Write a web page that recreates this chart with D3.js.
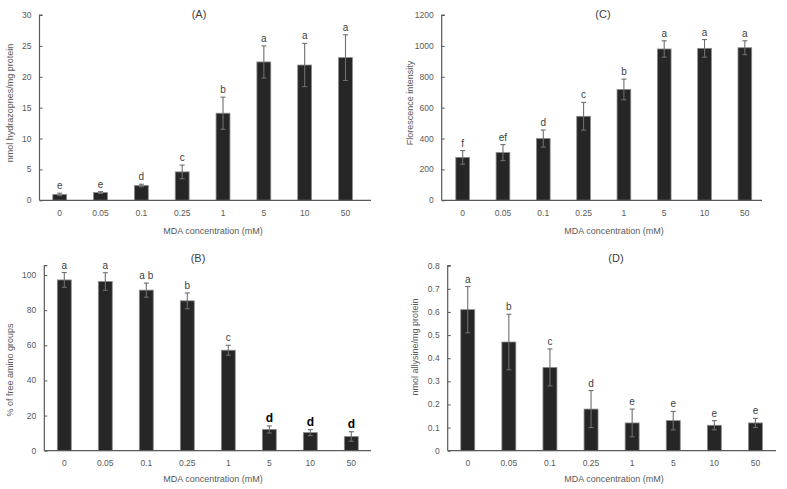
<!DOCTYPE html>
<html><head><meta charset="utf-8">
<script src="https://cdn.jsdelivr.net/npm/d3@7"></script>
<style>
html,body{margin:0;padding:0;background:#fff;}
svg{display:block;font-family:"Liberation Sans",Arial,sans-serif;}
</style></head>
<body>
<svg id="chart" width="787" height="489"></svg>
<script>
// ---- data ----
const categories = ["0","0.05","0.1","0.25","1","5","10","50"];

const valuesA = [0.95, 1.25, 2.4, 4.6, 14.1, 22.4, 21.9, 23.1];
const errorsA = [0.2, 0.15, 0.2, 1.1, 2.6, 2.6, 3.5, 3.7];
const lettersA = ["e","e","d","c","b","a","a","a"];
const ticksA = [0,5,10,15,20,25,30];

const valuesC = [278, 309, 400, 544, 718, 980, 984, 988];
const errorsC = [44, 52, 55, 90, 67, 53, 57, 45];
const lettersC = ["f","ef","d","c","b","a","a","a"];
const ticksC = [0,200,400,600,800,1000,1200];

const valuesB = [97.2, 96.3, 91.4, 85.3, 57.2, 12.1, 10.3, 8.1];
const errorsB = [4.2, 5.0, 4.0, 4.5, 2.8, 2.0, 1.7, 2.7];
const lettersB = ["a","a","a b","b","c","d","d","d"];
const ticksB = [0,20,40,60,80,100];

const valuesD = [0.61, 0.47, 0.36, 0.18, 0.12, 0.13, 0.11, 0.12];
const errorsD = [0.10, 0.12, 0.08, 0.08, 0.06, 0.04, 0.02, 0.02];
const lettersD = ["a","b","c","d","e","e","e","e"];
const ticksD = [0,0.1,0.2,0.3,0.4,0.5,0.6,0.7,0.8];

const panels = [
  {title:"(A)", ylabel:"nmol hydrazopnes/mg protein", values:valuesA, errors:errorsA, letters:lettersA, ticks:ticksA, ymax:30,
   left:39.5, bandLeft:39.3, bandRight:365.9, right:371, top:15, bottom:200.3, titleX:199, titleY:18, ylabX:13, ylabY:103,
   xlabX:213, xtickY:216, xlabY:234, fmt:d3.format("d"), boldLetters:[]},
  {title:"(C)", ylabel:"Florescence intensity", values:valuesC, errors:errorsC, letters:lettersC, ticks:ticksC, ymax:1200,
   left:441.7, bandLeft:442.5, bandRight:765, right:762, top:15, bottom:200.3, titleX:603, titleY:18, ylabX:413, ylabY:103,
   xlabX:614, xtickY:216, xlabY:234, fmt:d3.format("d"), boldLetters:[]},
  {title:"(B)", ylabel:"% of free amino groups", values:valuesB, errors:errorsB, letters:lettersB, ticks:ticksB, ymax:105.3,
   left:44.3, bandLeft:43.8, bandRight:371.8, right:371, top:265.7, bottom:450.7, titleX:198, titleY:262, ylabX:13, ylabY:370,
   xlabX:213, xtickY:466, xlabY:482, fmt:d3.format("d"), boldLetters:[5,6,7]},
  {title:"(D)", ylabel:"nmol allysine/mg protein", values:valuesD, errors:errorsD, letters:lettersD, ticks:ticksD, ymax:0.8,
   left:447.7, bandLeft:447.2, bandRight:776, right:776, top:265.7, bottom:450.7, titleX:616, titleY:262, ylabX:418, ylabY:347,
   xlabX:614, xtickY:466, xlabY:482, fmt:d => d===0 ? "0" : d3.format(".1f")(d), boldLetters:[]}
];

const svg = d3.select("#chart");
const axisColor = "#595959";
const textColor = "#595959";

panels.forEach(p => {
  const g = svg.append("g");
  const x = d3.scaleBand().domain(categories).range([p.bandLeft, p.bandRight]).paddingInner(0.66).paddingOuter(0.33);
  const y = d3.scaleLinear().domain([0, p.ymax]).range([p.bottom, p.top]);

  // y axis
  const yAxis = g.append("g").attr("transform", `translate(${p.left},0)`)
    .call(d3.axisRight(y).tickValues(p.ticks).tickSize(3).tickFormat(""));
  yAxis.select(".domain").attr("stroke", axisColor).attr("stroke-width", 1.2).attr("d", `M0,${p.bottom}V${p.top}h3`);
  yAxis.selectAll(".tick line").attr("stroke", axisColor).attr("stroke-width", 1);
  // y tick labels
  g.append("g").selectAll("text").data(p.ticks).join("text")
    .attr("x", p.left - 8).attr("y", d => y(d)).attr("dy", "0.35em")
    .attr("text-anchor", "end").attr("font-size", 8.5).attr("fill", textColor)
    .text(p.fmt);

  // bars
  g.append("g").selectAll("rect").data(p.values).join("rect")
    .attr("x", (d,i) => x(categories[i]))
    .attr("y", d => y(d))
    .attr("width", x.bandwidth())
    .attr("height", d => p.bottom - y(d))
    .attr("fill", "#262626").attr("stroke", "#8c8c8c").attr("stroke-width", 0.8);

  // error bars
  const eg = g.append("g").attr("stroke", "#6e6e6e").attr("stroke-width", 1.1);
  p.values.forEach((v,i) => {
    const cx = x(categories[i]) + x.bandwidth()/2;
    const y1 = y(v + p.errors[i]), y0 = y(Math.max(0, v - p.errors[i]));
    eg.append("line").attr("x1", cx).attr("x2", cx).attr("y1", y1).attr("y2", y0);
    eg.append("line").attr("x1", cx-2.5).attr("x2", cx+2.5).attr("y1", y1).attr("y2", y1);
    eg.append("line").attr("x1", cx-2.5).attr("x2", cx+2.5).attr("y1", y0).attr("y2", y0);
  });

  // x axis baseline
  g.append("line").attr("x1", p.left).attr("x2", p.right).attr("y1", p.bottom).attr("y2", p.bottom)
    .attr("stroke", axisColor).attr("stroke-width", 1.2);

  // x tick labels
  g.append("g").selectAll("text").data(categories).join("text")
    .attr("x", d => x(d) + x.bandwidth()/2).attr("y", p.xtickY)
    .attr("text-anchor", "middle").attr("font-size", 8.5).attr("fill", textColor)
    .text(d => d);

  // significance letters
  g.append("g").selectAll("text").data(p.letters).join("text")
    .attr("x", (d,i) => x(categories[i]) + x.bandwidth()/2)
    .attr("y", (d,i) => y(p.values[i] + p.errors[i]) - 4)
    .attr("text-anchor", "middle")
    .attr("font-size", (d,i) => p.boldLetters.includes(i) ? 12 : 10)
    .attr("font-weight", (d,i) => p.boldLetters.includes(i) ? "bold" : "normal")
    .attr("fill", (d,i) => p.boldLetters.includes(i) ? "#000" : "#404040")
    .text(d => d);

  // title
  g.append("text").attr("x", p.titleX).attr("y", p.titleY).attr("text-anchor", "middle")
    .attr("font-size", 11).attr("fill", "#404040").text(p.title);

  // axis titles
  g.append("text").attr("x", p.xlabX).attr("y", p.xlabY).attr("text-anchor", "middle")
    .attr("font-size", 9).attr("fill", textColor).text("MDA concentration (mM)");
  g.append("text").attr("transform", `translate(${p.ylabX},${p.ylabY}) rotate(-90)`)
    .attr("text-anchor", "middle").attr("font-size", 9).attr("fill", textColor).text(p.ylabel);
});
</script>
</body></html>
